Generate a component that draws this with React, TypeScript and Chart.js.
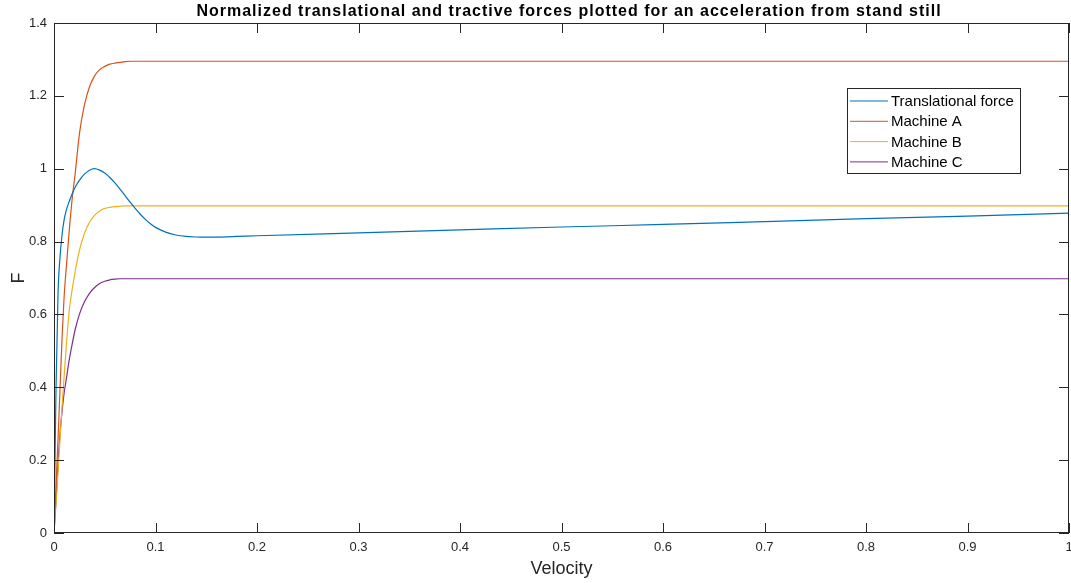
import React, { useEffect, useRef } from "react";
import { Chart, registerables } from "chart.js";

Chart.register(...registerables);

const TITLE = "Normalized translational and tractive forces plotted for an acceleration from stand still";
const X_LABEL = "Velocity";
const Y_LABEL = "F";

const velocity = [
  0, 0.002, 0.004, 0.006, 0.008, 0.01, 0.012, 0.015, 0.018, 0.021, 0.025, 0.03, 0.035, 0.04, 0.045,
  0.05, 0.055, 0.06, 0.065, 0.07, 0.075, 0.08, 0.085, 0.09, 0.095, 0.1, 0.11, 0.12, 0.13, 0.14, 0.15,
  0.16, 0.18, 0.2, 0.3, 0.4, 0.5, 0.6, 0.7, 0.8, 0.9, 1.0,
];

const translationalForce = [
  0, 0.4, 0.66, 0.76, 0.82, 0.86, 0.885, 0.91, 0.932, 0.95, 0.968, 0.985, 0.996, 1.0, 0.996,
  0.988, 0.976, 0.961, 0.944, 0.926, 0.908, 0.891, 0.875, 0.861, 0.849, 0.839, 0.826, 0.818, 0.814, 0.8125, 0.812,
  0.8123, 0.814, 0.816, 0.824, 0.832, 0.84, 0.847, 0.855, 0.863, 0.87, 0.878,
];

const machineA = [
  0, 0.13, 0.26, 0.4, 0.54, 0.65, 0.725, 0.83, 0.92, 0.99, 1.095, 1.175, 1.225, 1.255, 1.272,
  1.281, 1.287, 1.29, 1.292, 1.294, 1.295, 1.295, 1.295, 1.295, 1.295, 1.295, 1.295, 1.295, 1.295, 1.295, 1.295,
  1.295, 1.295, 1.295, 1.295, 1.295, 1.295, 1.295, 1.295, 1.295, 1.295, 1.295,
];

const machineB = [
  0, 0.085, 0.17, 0.26, 0.35, 0.43, 0.51, 0.61, 0.67, 0.72, 0.775, 0.822, 0.853, 0.872, 0.884,
  0.891, 0.894, 0.896, 0.897, 0.898, 0.898, 0.898, 0.898, 0.898, 0.898, 0.898, 0.898, 0.898, 0.898, 0.898, 0.898,
  0.898, 0.898, 0.898, 0.898, 0.898, 0.898, 0.898, 0.898, 0.898, 0.898, 0.898,
];

const machineC = [
  0, 0.09, 0.19, 0.275, 0.335, 0.385, 0.42, 0.475, 0.52, 0.56, 0.6, 0.635, 0.658, 0.674, 0.685,
  0.691, 0.695, 0.697, 0.698, 0.698, 0.698, 0.698, 0.698, 0.698, 0.698, 0.698, 0.698, 0.698, 0.698, 0.698, 0.698,
  0.698, 0.698, 0.698, 0.698, 0.698, 0.698, 0.698, 0.698, 0.698, 0.698, 0.698,
];

const seriesLabels = ["Translational force", "Machine A", "Machine B", "Machine C"];
const seriesColors = ["#0072BD", "#D95319", "#EDB120", "#7E2F8E"];
const seriesValues = [translationalForce, machineA, machineB, machineC];

const FONT = "'Liberation Sans', Arial, Helvetica, sans-serif";
const AXIS_COLOR = "#262626";
const fmt = (v: any) => String(Math.round(Number(v) * 10) / 10);

const boxPlugin = {
  id: "matlabBox",
  afterDatasetsDraw(chart: any) {
    const { ctx, chartArea, scales } = chart;
    const { left, right, top, bottom } = chartArea;
    ctx.save();
    ctx.strokeStyle = AXIS_COLOR;
    ctx.lineWidth = 1;
    const tl = 10;
    ctx.beginPath();
    scales.x.ticks.forEach((t: any) => {
      const px = Math.round(scales.x.getPixelForValue(t.value)) + 0.5;
      ctx.moveTo(px, bottom);
      ctx.lineTo(px, bottom - tl);
      ctx.moveTo(px, top);
      ctx.lineTo(px, top + tl);
    });
    scales.y.ticks.forEach((t: any) => {
      const py = Math.round(scales.y.getPixelForValue(t.value)) + 0.5;
      ctx.moveTo(left, py);
      ctx.lineTo(left + tl, py);
      ctx.moveTo(right, py);
      ctx.lineTo(right - tl, py);
    });
    ctx.stroke();
    ctx.strokeRect(Math.round(left) + 0.5, Math.round(top) + 0.5, Math.round(right - left) - 1, Math.round(bottom - top) - 1);

    // title
    ctx.fillStyle = "#000000";
    ctx.font = `bold 16px ${FONT}`;
    ctx.textAlign = "center";
    ctx.textBaseline = "alphabetic";
    (ctx as any).letterSpacing = "1px";
    ctx.fillText(TITLE, 569, 15.5);
    (ctx as any).letterSpacing = "0px";

    // legend
    const lx = 847.5, ly = 88.5, lw = 173, lh = 85;
    ctx.fillStyle = "#ffffff";
    ctx.fillRect(lx, ly, lw, lh);
    ctx.strokeStyle = AXIS_COLOR;
    ctx.lineWidth = 1;
    ctx.strokeRect(lx, ly, lw, lh);
    ctx.font = `15px ${FONT}`;
    ctx.textBaseline = "middle";
    ctx.textAlign = "left";
    chart.data.datasets.forEach((ds: any, i: number) => {
      const ry = 101 + i * 20.3;
      ctx.strokeStyle = ds.borderColor;
      ctx.lineWidth = 1;
      ctx.beginPath();
      ctx.moveTo(850, ry);
      ctx.lineTo(888, ry);
      ctx.stroke();
      ctx.fillStyle = "#000000";
      ctx.fillText(ds.label, 891, ry + 1);
    });
    ctx.restore();
  },
};

export default function App() {
  const ref = useRef<HTMLCanvasElement | null>(null);
  useEffect(() => {
    if (!ref.current) return;
    const chart = new Chart(ref.current, {
      type: "line",
      data: {
        datasets: seriesLabels.map((label, i) => ({
          label,
          data: velocity.map((v, j) => ({ x: v, y: seriesValues[i][j] })),
          borderColor: seriesColors[i],
          backgroundColor: seriesColors[i],
          borderWidth: 1.2,
          pointRadius: 0,
          fill: false,
          cubicInterpolationMode: "monotone" as const,
        })),
      },
      options: {
        responsive: false,
        animation: false,
        layout: { padding: { left: 0, right: 2, top: 23, bottom: 0 } },
        plugins: {
          legend: { display: false },
          tooltip: { enabled: false },
          title: { display: false },
        },
        scales: {
          x: {
            type: "linear",
            min: 0,
            max: 1,
            ticks: {
              stepSize: 0.1,
              color: AXIS_COLOR,
              font: { family: FONT, size: 13 },
              padding: 7,
              maxRotation: 0,
              autoSkip: false,
              callback: fmt,
            },
            grid: { display: false, drawTicks: false },
            border: { display: false },
            title: {
              display: true,
              text: X_LABEL,
              color: AXIS_COLOR,
              font: { family: FONT, size: 18 },
              padding: { top: 0, bottom: 3 },
            },
            afterFit(scale: any) {
              scale.height = 50;
              scale.paddingLeft = 0;
              scale.paddingRight = 0;
            },
          },
          y: {
            type: "linear",
            min: 0,
            max: 1.4,
            ticks: {
              stepSize: 0.2,
              color: AXIS_COLOR,
              font: { family: FONT, size: 13 },
              padding: 7,
              autoSkip: false,
              callback: fmt,
            },
            grid: { display: false, drawTicks: false },
            border: { display: false },
            title: {
              display: true,
              text: Y_LABEL,
              color: AXIS_COLOR,
              font: { family: FONT, size: 18 },
              padding: { top: 8, bottom: 0 },
            },
            afterFit(scale: any) {
              scale.width = 54;
              scale.paddingTop = 0;
              scale.paddingBottom = 0;
            },
          },
        },
      },
      plugins: [boxPlugin],
    });
    return () => chart.destroy();
  }, []);
  return (
    <div style={{ position: "absolute", left: 0, top: 0, width: 1071, height: 583, background: "#ffffff" }}>
      <canvas ref={ref} width={1071} height={583} style={{ display: "block" }} />
    </div>
  );
}
